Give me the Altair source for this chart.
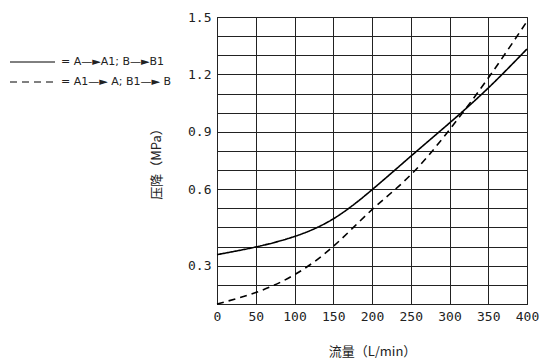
import altair as alt
import pandas as pd

# ---- data ----
flow = [0, 50, 100, 150, 200, 250, 300, 350, 400]
solid_vals = [0.258, 0.298, 0.353, 0.445, 0.597, 0.772, 0.946, 1.129, 1.333]
dashed_vals = [0.0, 0.06, 0.153, 0.301, 0.493, 0.675, 0.911, 1.181, 1.477]
series_names = ["= A—►A1; B—►B1", "= A1—► A; B1—► B"]

x_ticks = [0, 50, 100, 150, 200, 250, 300, 350, 400]
y_grid = [0.0, 0.1, 0.2, 0.3, 0.4, 0.5, 0.6, 0.7, 0.8, 0.9, 1.0, 1.1, 1.2, 1.3, 1.4, 1.5]
y_label_pos = [0.2, 0.6, 0.9, 1.2, 1.5]
y_label_txt = ["0.3", "0.6", "0.9", "1.2", "1.5"]

rows = []
for f, v in zip(flow, solid_vals):
    rows.append({"flow": f, "dp": v, "series": series_names[0]})
for f, v in zip(flow, dashed_vals):
    rows.append({"flow": f, "dp": v, "series": series_names[1]})
df = pd.DataFrame(rows)
legend_df = pd.DataFrame({"series": series_names})

label_expr = "".join(
    f"abs(datum.value-{p})<0.001?'{t}':" for p, t in zip(y_label_pos, y_label_txt)
) + "''"

mono = "DejaVu Sans Mono"
dash_scale = alt.Scale(domain=series_names, range=[[1, 0], [7, 5]])

lines = alt.Chart(df).mark_line(interpolate="natural", color="black", strokeWidth=1.6).encode(
    x=alt.X("flow:Q",
            scale=alt.Scale(domain=[0, 400], nice=False, zero=False),
            axis=alt.Axis(values=x_ticks, title="流量（L/min）", grid=True, ticks=False,
                          labelFlush=False, labelOverlap=False,
                          labelFont=mono, labelFontSize=13, labelPadding=6,
                          titleFont="Noto Sans CJK SC", titleFontSize=13, titleFontWeight="normal",
                          titlePadding=22)),
    y=alt.Y("dp:Q",
            scale=alt.Scale(domain=[0, 1.5], nice=False, zero=False),
            axis=alt.Axis(values=y_grid, labelExpr=label_expr, title="压降（MPa）", grid=True,
                          ticks=False, labelFlush=False, labelOverlap=False,
                          labelFont=mono, labelFontSize=13, labelPadding=6,
                          titleFont="Noto Sans CJK SC", titleFontSize=13, titleFontWeight="normal",
                          titlePadding=24)),
    strokeDash=alt.StrokeDash("series:N", scale=dash_scale, legend=None),
)

leg_y = alt.Y("series:N",
              scale=alt.Scale(type="point", domain=series_names, range=[45, 65], padding=0),
              axis=None)

leg_rule = alt.Chart(legend_df).mark_rule(color="black", strokeWidth=1).encode(
    x=alt.value(-207), x2=alt.value(-162), y=leg_y,
    strokeDash=alt.StrokeDash("series:N", scale=dash_scale, legend=None),
)
leg_text = alt.Chart(legend_df).mark_text(align="left", baseline="middle", font="DejaVu Sans",
                                          fontSize=11, color="#222").encode(
    x=alt.value(-156), y=leg_y, text="series:N",
)

chart = alt.layer(lines, leg_rule, leg_text).resolve_scale(y="independent").properties(
    width=310, height=287,
    autosize=alt.AutoSizeParams(type="none"),
    padding={"left": 209, "top": 9, "right": 13, "bottom": 54},
).configure_axis(
    gridColor="#222", gridOpacity=1, gridWidth=1,
    domainColor="#222", labelColor="#222", titleColor="#222",
).configure_view(stroke="#222", strokeWidth=1)

chart.save("out.html", embed_options={"renderer": "svg", "actions": False})
